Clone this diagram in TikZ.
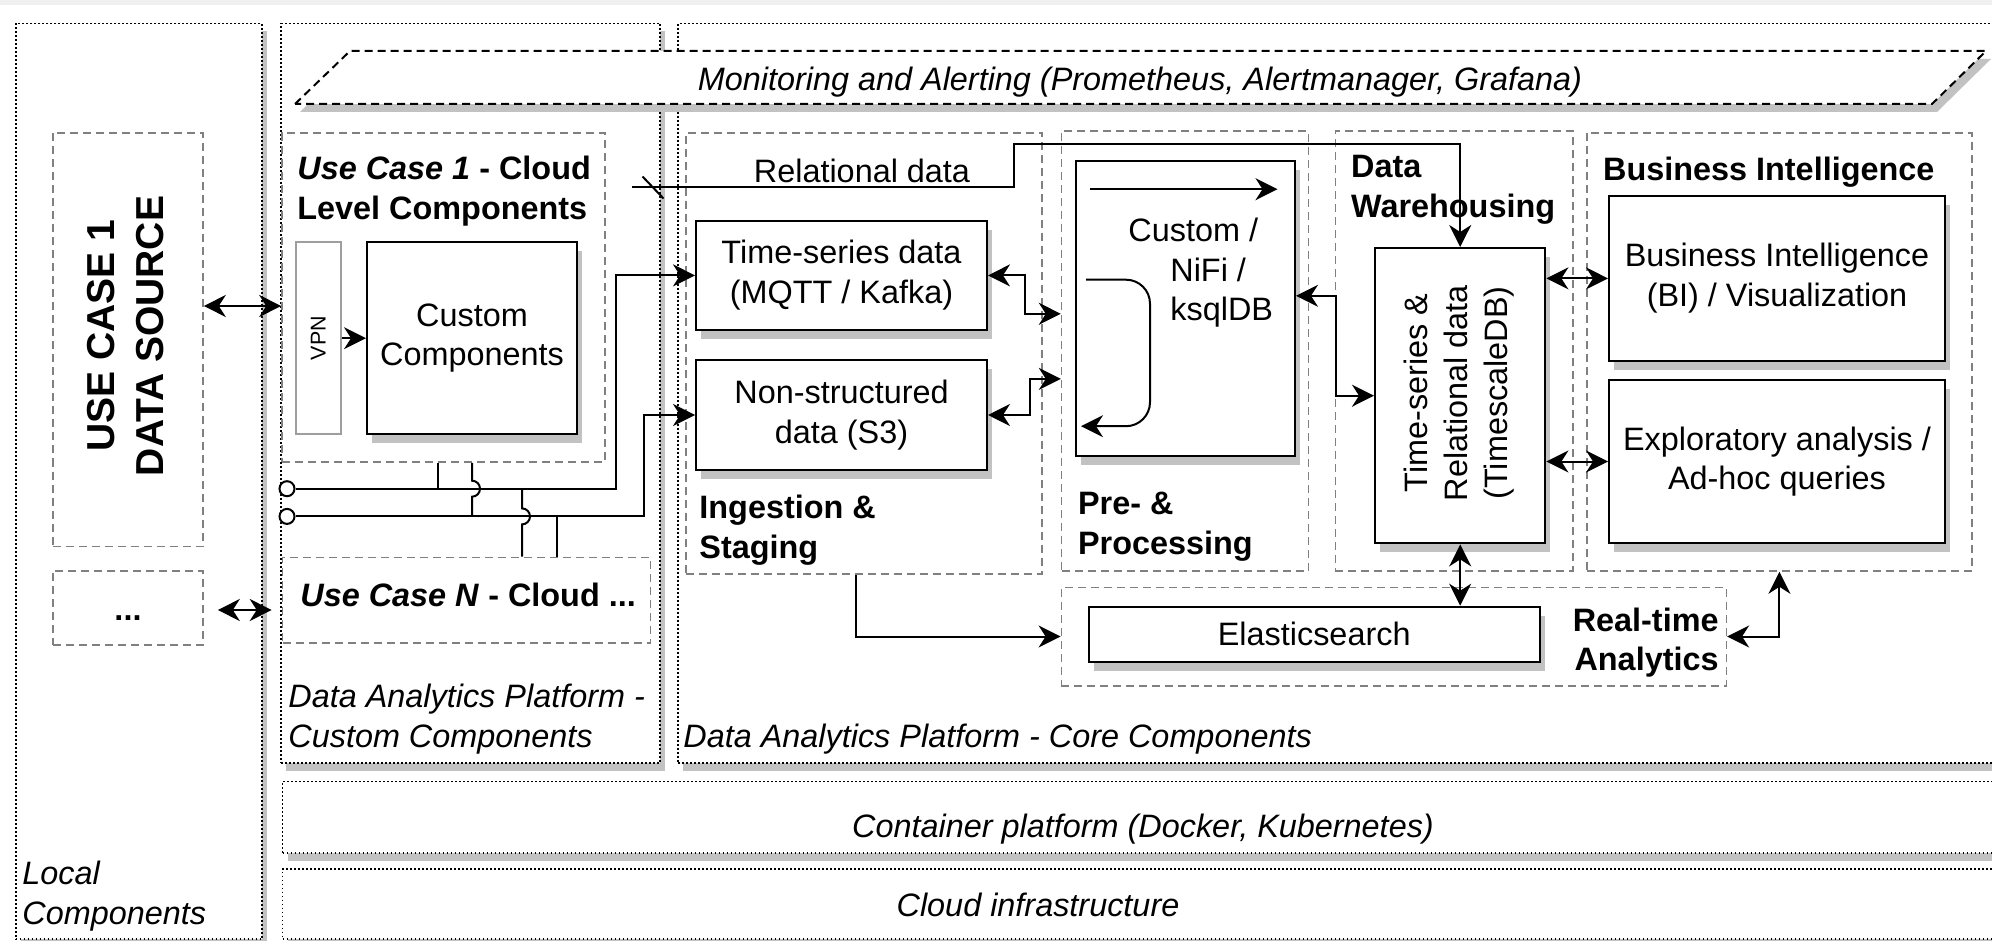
\documentclass[tikz,border=0pt]{standalone}
\usepackage{fontspec}
\setmainfont{Liberation Sans}
\usepackage{tikz}
\usetikzlibrary{arrows.meta,calc,fit,shadows}
\usepackage{xcolor}
\definecolor{GroupGray}{HTML}{808080}
\definecolor{VpnGray}{HTML}{9E9E9E}
\definecolor{ShadowGray}{HTML}{C2C2C2}
\definecolor{BandGray}{HTML}{F0F0F0}

\newcommand{\boxfont}{\fontsize{16.2}{19.8}\selectfont}

\tikzset{
   tier/.style={draw, fill=white, line width=0.9pt, dash pattern=on 0.9pt off 1.1pt, inner sep=0pt,
      drop shadow={shadow xshift=2.5pt, shadow yshift=-4pt, fill=ShadowGray, opacity=1}},
   grp/.style={draw=GroupGray, line width=0.8pt, dash pattern=on 4pt off 2.5pt, inner sep=0pt},
   comp/.style={draw, fill=white, line width=1pt, inner sep=0pt, align=center, font=\boxfont,
      drop shadow={shadow xshift=2.5pt, shadow yshift=-4.5pt, fill=ShadowGray, opacity=1}},
   grouptitle/.style={inner sep=0pt, align=left, font=\boxfont\bfseries},
   note/.style={inner sep=0pt, align=left, font=\boxfont\itshape},
   link/.style={line width=1pt, ->},
   duplex/.style={line width=1pt, <->},
}

\begin{document}
\begin{tikzpicture}[x=0.5pt, y=-0.5pt, >={Stealth[length=11pt,width=11pt,inset=3.5pt]}]
   \useasboundingbox (0,0) rectangle (1992,941);
   \fill[BandGray] (0,0) rectangle (1992,5);

   \node[tier, fit={(15.6,23.5) (262,939.3)}] (loc) {};
   \node[tier, fit={(281,23.5) (660,763)}] (dapc) {};
   \node[tier, fit={(678,23.5) (2020,763)}] (dapk) {};
   \node[tier, fit={(282.5,781.5) (2020,852.7)}] (cont) {};
   \node[tier, fit={(282.5,869) (2020,939.3)}] (infra) {};

   \draw[fill=white, line width=1pt, dash pattern=on 4pt off 2.5pt,
      drop shadow={shadow xshift=2.5pt, shadow yshift=-4pt, fill=ShadowGray, opacity=1}]
      (295,104) -- (350,51) -- (1986,51) -- (1932,104) -- cycle;
   \node[font=\boxfont\itshape] (mon) at (1140,82) {Monitoring and Alerting (Prometheus, Alertmanager, Grafana)};

   \node[grp, fit={(52.7,132.8) (203,546.5)}] (src) {};
   \node[rotate=90, align=center, inner sep=0pt, font=\fontsize{19.5}{24.5}\selectfont\bfseries] (srct) at (126,336) {USE CASE 1\\DATA SOURCE};
   \node[grp, fit={(53,570.7) (203,645)}] (more) {};
   \node[font=\boxfont\bfseries] (moret) at ($(more.center)+(0,10)$) {...};

   \node[grp, fit={(282,132.8) (605,462)}] (uc1) {};
   \node[grouptitle, anchor=west] (uc1t) at (297,191) {\textit{Use Case 1} - Cloud\\Level Components};
   \node[draw=VpnGray, line width=1pt, inner sep=0pt, fit={(296,242) (340.6,434.4)}] (vpn) {};
   \node[rotate=90, inner sep=0pt, font=\fontsize{10.7}{13}\selectfont] (vpnt) at (vpn.center) {VPN};
   \node[comp, minimum width=105pt, minimum height=96.2pt] (cust) at (472,338.2) {Custom\\Components};
   \node[grp, fit={(282.5,557.3) (650.5,642.7)}] (ucn) {};
   \node[grouptitle, anchor=west] (ucnt) at (300,595) {\textit{Use Case N} - Cloud ...};

   \node[circle, draw, fill=white, line width=1pt, inner sep=0pt, minimum size=7.5pt] (o1) at (287,488.7) {};
   \node[circle, draw, fill=white, line width=1pt, inner sep=0pt, minimum size=7.5pt] (o2) at (287,516.4) {};

   \node[grp, fit={(685.7,132.8) (1042,574)}] (ing) {};
   \node[grp, fit={(1061.6,131) (1308.5,571)}] (pp) {};
   \node[grp, fit={(1335.3,131) (1572.7,571)}] (dw) {};
   \node[grp, fit={(1586.8,132.8) (1972,571)}] (big) {};
   \node[grp, fit={(1061.4,587.3) (1726.3,685.7)}] (rt) {};

   \node[grouptitle, anchor=west] (ingt) at (699,530) {Ingestion \&\\Staging};
   \node[grouptitle, anchor=west] (ppt) at (1077.7,526.5) {Pre- \&\\Processing};
   \node[grouptitle, anchor=west] (dwt) at (1350.7,189.5) {Data\\Warehousing};
   \node[grouptitle, anchor=west] (bigt) at (1602.7,172) {Business Intelligence};
   \node[grouptitle, anchor=east, align=right] (rtt) at (1719,642.5) {Real-time\\Analytics};

   \node[comp, minimum width=145.5pt, minimum height=54.6pt] (ts) at (841.5,275.4) {Time-series data\\(MQTT / Kafka)};
   \node[comp, minimum width=145.5pt, minimum height=54.6pt] (ns) at (841.5,415) {Non-structured\\data (S3)};
   \node[comp, fit={(1076,160.7) (1295,456)}] (proc) {};
   \node[align=left, anchor=west, inner sep=0pt, font=\boxfont] (proct) at (1170,273) {\hspace*{-21pt}Custom /\\NiFi /\\ksqlDB};
   \node[comp, fit={(1375,248) (1545.4,543.4)}] (tsdb) {};
   \node[rotate=90, align=center, inner sep=0pt, font=\boxfont] (tsdbt) at (1459,393) {Time-series \&\\Relational data\\(TimescaleDB)};
   \node[comp, minimum width=168pt, minimum height=82.1pt] (bi) at (1777,278.4) {Business Intelligence\\(BI) / Visualization};
   \node[comp, minimum width=168pt, minimum height=81.9pt] (expl) at (1777,461.5) {Exploratory analysis /\\Ad-hoc queries};
   \node[comp, minimum width=225.5pt, minimum height=27.5pt] (es) at (1314.2,634.2) {Elasticsearch};

   \node[note, anchor=west] (dapct) at (288,719) {Data Analytics Platform -\\Custom Components};
   \node[note, anchor=west] (dapkt) at (683,739) {Data Analytics Platform - Core Components};
   \node[note] (contt) at (1143,829) {Container platform (Docker, Kubernetes)};
   \node[note] (infrat) at (1038,905) {Cloud infrastructure};
   \node[note, anchor=west] (loct) at (22,896) {Local\\Components};
   \node[font=\boxfont] (relt) at (862,171) {Relational data};

   \draw[duplex] (src.east |- 0,306) -- (uc1.west |- 0,306);
   \draw[duplex, shorten <=7pt, shorten >=5pt] (more.east |- 0,610) -- (ucn.west |- 0,610);
   \draw[link] (vpn.east |- cust.west) -- (cust.west);

   \draw[link] (o1.east) -- ++(320.3,0) |- (ts.west);
   \draw[link] (o2.east) -- ++(348.3,0) |- (ns.west);
   \draw[line width=1pt] (uc1.south -| 437.5,0) -- (437.5,0 |- o1);
   \draw[line width=1pt] (uc1.south -| 472,0) -- (472,480.7) arc (-90:90:8) -- (472,0 |- o2);
   \draw[line width=1pt] (522,0 |- o1) -- (522,508.4) arc (-90:90:8) -- (ucn.north -| 522,0);
   \draw[line width=1pt] (557,0 |- o2) -- (ucn.north -| 557,0);

   \coordinate (rel) at (632,187.5);
   \draw[link] (rel) -- ++(381.8,0) -- ++(0,-43.2) -| (tsdb.north);
   \draw[line width=1pt] ($(rel)+(10.5,-11)$) -- ++(21,22);

   \draw[duplex] (ts.east) -- ++(37,0) |- (pp.west |- 0,313.8);
   \draw[duplex] (ns.east) -- ++(41.6,0) |- (pp.west |- 0,378.9);
   \draw[link] ([shift={(15,29.5)}]proc.north west) -- ([shift={(202.5,29.5)}]proc.north west);
   \draw[link, rounded corners=12pt] ([shift={(11,120)}]proc.north west) -| ([shift={(75,266.5)}]proc.north west) -- ([shift={(6,266.5)}]proc.north west);
   \draw[duplex] (proc.east |- 0,295.8) -- ++(40.3,0) |- (tsdb.west);
   \draw[duplex] (tsdb.east |- bi.west) -- (bi.west);
   \draw[duplex] (tsdb.east |- expl.west) -- (expl.west);
   \draw[duplex] (tsdb.south) -- (tsdb.south |- es.north);
   \draw[link] ($(ing.south)+(-8,0)$) |- (rt.west);
   \draw[duplex] (rt.east) -| (big.south);
\end{tikzpicture}
\end{document}
